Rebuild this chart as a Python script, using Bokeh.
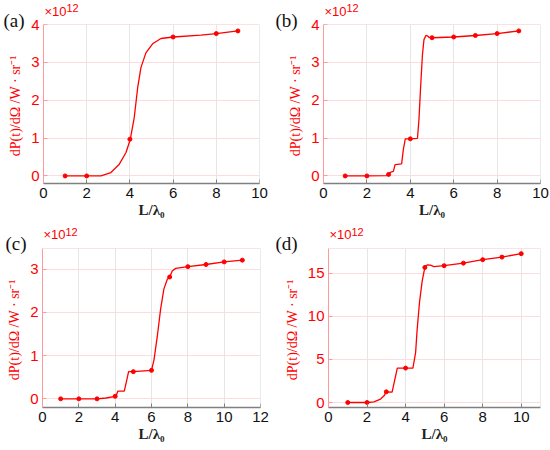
from bokeh.plotting import figure
from bokeh.layouts import row, column
from bokeh.models import Span, FixedTicker, Range1d, Title
from bokeh.embed import file_html
from bokeh.resources import INLINE

# ---------------- data ----------------
# panel (a)
a_mark_x = [1, 2, 4, 6, 8, 9]
a_mark_y = [0, 0, 0.97, 3.67, 3.76, 3.83]
a_line_x = [1, 2, 2.66, 3.12, 3.51, 3.82, 4.02, 4.2, 4.36, 4.51, 4.74, 5.05, 5.44, 6, 7.29, 8, 9]
a_line_y = [0, 0, 0.0, 0.09, 0.31, 0.62, 0.97, 1.54, 2.33, 2.86, 3.25, 3.49, 3.63, 3.67, 3.72, 3.76, 3.83]

# panel (b)
b_mark_x = [1, 2, 3, 4, 5, 6, 7, 8, 9]
b_mark_y = [0, 0, 0.04, 0.98, 3.65, 3.67, 3.71, 3.76, 3.83]
b_line_x = [1, 2, 2.9, 3, 3.1, 3.22, 3.3, 3.6, 3.68, 3.77, 4.0, 4.33, 4.4, 4.48, 4.56, 4.63, 4.72, 4.78, 4.87, 5, 6, 7, 8, 9]
b_line_y = [0, 0, 0.01, 0.04, 0.1, 0.12, 0.3, 0.32, 0.7, 0.98, 0.98, 0.99, 1.5, 2.4, 3.2, 3.6, 3.71, 3.7, 3.66, 3.65, 3.67, 3.71, 3.76, 3.83]

# panel (c)
c_mark_x = [1, 2, 3, 4, 5, 6, 7, 8, 9, 10, 11]
c_mark_y = [0, 0, 0, 0.06, 0.63, 0.66, 2.82, 3.06, 3.11, 3.17, 3.21]
c_line_x = [1, 2, 3, 3.5, 4, 4.08, 4.15, 4.5, 4.62, 4.74, 5, 6, 6.14, 6.32, 6.5, 6.68, 6.87, 7, 7.14, 7.33, 8, 9, 10, 11]
c_line_y = [0, 0, 0, 0.02, 0.06, 0.1, 0.18, 0.18, 0.4, 0.63, 0.63, 0.66, 0.91, 1.45, 2.07, 2.54, 2.77, 2.82, 2.96, 3.02, 3.06, 3.11, 3.17, 3.21]

# panel (d)
d_mark_x = [1, 2, 3, 4, 5, 6, 7, 8, 9, 10]
d_mark_y = [0, 0, 1.24, 4.0, 15.7, 15.9, 16.2, 16.6, 16.9, 17.3]
d_line_x = [1, 2, 2.36, 2.7, 2.88, 3, 3.3, 3.57, 4, 4.38, 4.52, 4.6, 4.72, 4.86, 5, 5.12, 5.29, 5.47, 6, 7, 8, 9, 10]
d_line_y = [0, 0, 0.08, 0.4, 0.78, 1.24, 1.2, 4.0, 4.0, 4.0, 5.8, 8.5, 11.6, 14.1, 15.7, 16.0, 15.97, 15.8, 15.9, 16.2, 16.6, 16.9, 17.3]

x_ticks_10 = [0, 2, 4, 6, 8, 10]
x_ticks_12 = [0, 2, 4, 6, 8, 10, 12]
y_ticks_4 = [0, 1, 2, 3, 4]
y_ticks_3 = [0, 1, 2, 3]
y_ticks_15 = [0, 5, 10, 15]

x_label = "L/λ₀"
y_label = "dP(t)/dΩ  /W · sr⁻¹"
exp_base = "×10"
exp_pow = "12"

RED = "#ff0000"


def panel(tag, lx, ly, mx, my, xr, yr, xticks, yticks, W, H, bl, br, bt, bb,
          tag_dx, standoffs):
    so_tag, so_base, so_pow = standoffs
    p = figure(width=W, height=H, x_range=Range1d(*xr), y_range=Range1d(*yr),
               output_backend="svg", toolbar_location=None,
               min_border_left=bl, min_border_right=br,
               min_border_top=bt, min_border_bottom=bb)
    p.background_fill_color = "white"
    p.border_fill_color = "white"
    p.outline_line_color = None

    xa = p.xaxis[0]
    xa.ticker = FixedTicker(ticks=xticks)
    xa.axis_line_color = "#808080"
    xa.axis_line_width = 1.6
    xa.major_tick_line_color = "#808080"
    xa.major_tick_in = 4
    xa.major_tick_out = 0
    xa.minor_tick_line_color = None
    xa.major_label_text_font = "Liberation Sans"
    xa.major_label_text_font_size = "15px"
    xa.major_label_text_color = "#111111"
    xa.major_label_standoff = 4
    xa.axis_label = x_label
    xa.axis_label_text_font = "Liberation Serif"
    xa.axis_label_text_font_style = "bold"
    xa.axis_label_text_font_size = "15px"
    xa.axis_label_text_color = "#222222"
    xa.axis_label_standoff = 1

    ya = p.yaxis[0]
    ya.ticker = FixedTicker(ticks=yticks)
    ya.axis_line_color = "#ff9a9a"
    ya.axis_line_width = 1
    ya.major_tick_line_color = "#ff9a9a"
    ya.major_tick_in = 4
    ya.major_tick_out = 0
    ya.minor_tick_line_color = None
    ya.major_label_text_font = "Liberation Sans"
    ya.major_label_text_font_size = "15px"
    ya.major_label_text_color = RED
    ya.major_label_standoff = 4
    ya.axis_label = y_label
    ya.axis_label_text_font = "Liberation Serif"
    ya.axis_label_text_font_style = "normal"
    ya.axis_label_text_font_size = "14px"
    ya.axis_label_text_color = RED
    ya.axis_label_standoff = 5

    p.xgrid.grid_line_color = "#e6e6e6"
    p.ygrid.grid_line_color = "#fcdcdc"

    p.add_layout(Span(location=yr[1], dimension="width", line_color="#f7c4c4", line_width=1))
    p.add_layout(Span(location=xr[1], dimension="height", line_color="#d8d8d8", line_width=1))

    p.line(lx, ly, line_color=RED, line_width=1.3)
    p.scatter(mx, my, size=4, fill_color=RED, line_color=RED)

    # panel tag, exponent base and raised power as titles in the top border
    p.add_layout(Title(text=tag, align="left", offset=tag_dx, standoff=so_tag,
                       text_font="Liberation Serif", text_font_size="19px",
                       text_font_style="normal", text_color="#111111"), "above")
    p.add_layout(Title(text=exp_base, align="left", offset=1, standoff=so_base,
                       text_font="Liberation Sans", text_font_size="13px",
                       text_font_style="normal", text_color=RED), "above")
    p.add_layout(Title(text=exp_pow, align="left", offset=23, standoff=so_pow,
                       text_font="Liberation Sans", text_font_size="11px",
                       text_font_style="normal", text_color=RED), "above")
    return p


pa = panel("(a)", a_line_x, a_line_y, a_mark_x, a_mark_y, (0, 10), (-0.2, 4.0),
           x_ticks_10, y_ticks_4, 275, 225, 43, 16, 24, 42, -40, (-12, -10, -10))
pb = panel("(b)", b_line_x, b_line_y, b_mark_x, b_mark_y, (0, 10), (-0.2, 4.0),
           x_ticks_10, y_ticks_4, 275, 225, 48, 10, 24, 42, -48, (-12, -10, -10))
pc = panel("(c)", c_line_x, c_line_y, c_mark_x, c_mark_y, (0, 12), (-0.2, 3.48),
           x_ticks_12, y_ticks_3, 275, 225, 42, 15, 23, 43, -37, (-10, -12, -11))
pd = panel("(d)", d_line_x, d_line_y, d_mark_x, d_mark_y, (0, 11), (-0.58, 17.9),
           x_ticks_10, y_ticks_15, 275, 225, 53, 10, 23, 43, -53, (-10, -12, -11))

layout = column(row(pa, pb), row(pc, pd))

open("out.html", "w").write(file_html(layout, INLINE))
